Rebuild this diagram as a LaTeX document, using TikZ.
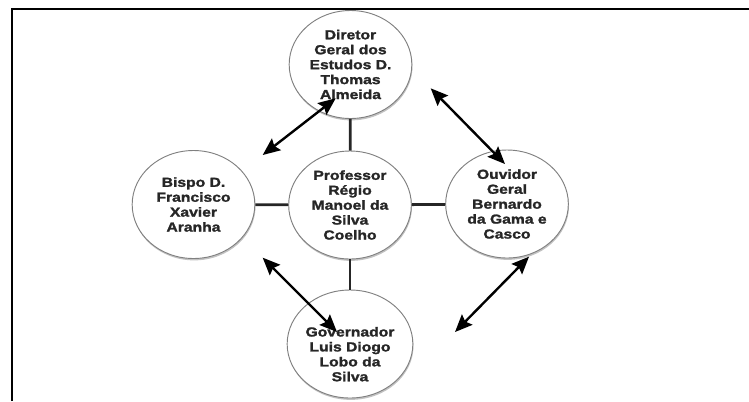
\documentclass[tikz,border=0pt]{standalone}
\usepackage{fontspec}
\setmainfont{Liberation Sans}
\newfontfamily\heavy{Liberation Sans Bold}[FakeStretch=1.2, FakeBold=1.6]
\usetikzlibrary{shapes.geometric,arrows.meta,shadows}
\begin{document}
\begin{tikzpicture}[x=0.75pt,y=-0.75pt,
  person/.style={ellipse, draw=black!50, line width=0.7pt, fill=white,
    minimum width=92pt, minimum height=81pt, inner sep=0pt, align=center,
    font=\heavy\fontsize{9.8}{11.2}\selectfont, text=black!85,
    drop shadow={shadow xshift=0.5pt, shadow yshift=-1.4pt, fill=black!40, opacity=0.6}},
  link/.style={line width=2.1pt, black!85},
  rel/.style={line width=1.8pt, black, {Stealth[length=13pt,width=11pt,inset=2pt]}-{Stealth[length=13pt,width=11pt,inset=2pt]}},
  frame/.style={line width=2pt, black}
]
\useasboundingbox (0,0) rectangle (749,401);
\coordinate (fa) at (12,401);
\coordinate (fb) at (12,9);
\coordinate (fc) at (749,9);
\draw[frame] (fa) -- (fb) -- (fc);

\node[person] (top) at (350.5,64.5) {Diretor\\Geral dos\\Estudos D.\\Thomas\\Almeida};
\node[person] (mid) at (350,205) {Professor\\Régio\\Manoel da\\Silva\\Coelho};
\node[person] (left) at (193.5,204.5) {Bispo D.\\Francisco\\Xavier\\Aranha};
\node[person] (right) at (507,204) {Ouvidor\\Geral\\Bernardo\\da Gama e\\Casco};
\node[person, text height=56pt] (bot) at (350,344) {Governador\\Luis Diogo\\Lobo da\\Silva};

\draw[link] (mid) -- (top);
\draw[link] (mid) -- (bot);
\draw[link] (mid) -- (left);
\draw[link] (mid) -- (right);

\coordinate (a1s) at (262.7,155);
\coordinate (a1e) at (335.7,98.3);
\coordinate (a2s) at (430.7,88.3);
\coordinate (a2e) at (505,164);
\coordinate (a3s) at (262.7,257.7);
\coordinate (a3e) at (337,332);
\coordinate (a4s) at (529,256.7);
\coordinate (a4e) at (455,332);
\draw[rel] (a1s) -- (a1e);
\draw[rel] (a2s) -- (a2e);
\draw[rel] (a3s) -- (a3e);
\draw[rel] (a4s) -- (a4e);
\end{tikzpicture}
\end{document}
